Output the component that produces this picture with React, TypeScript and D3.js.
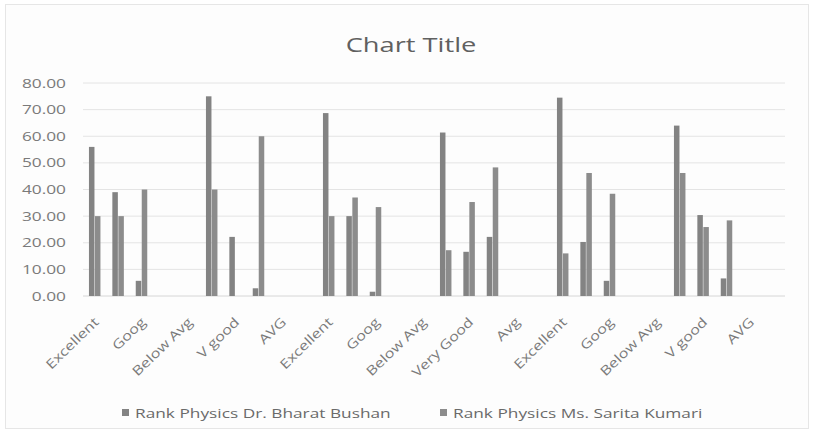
import React from "react";
import * as d3 from "d3";

const categories = [
  "Excellent", "V good", "Goog", "Avg", "Below Avg",
  "Excellent", "V good", "AVG", "Good", "Below Avg",
  "Excellent", "V good", "Goog", "Avg", "Below Avg",
  "Excellent", "Very Good", "Good", "Avg", "Below Avg",
  "Excellent", "V good", "Goog", "Avg", "Below Avg",
  "Excellent", "V good", "Good", "AVG", "Below Avg",
];
const tickLabels = [
  "Excellent", "Goog", "Below Avg", "V good", "AVG",
  "Excellent", "Goog", "Below Avg", "Very Good", "Avg",
  "Excellent", "Goog", "Below Avg", "V good", "AVG",
];
const seriesNames = ["Rank Physics Dr. Bharat Bushan", "Rank Physics Ms. Sarita Kumari"];
const bharat = [56, 39, 5.7, 0, 0, 75, 22.2, 2.9, 0, 0, 68.7, 30, 1.6, 0, 0, 61.4, 16.6, 22.2, 0, 0, 74.5, 20.3, 5.7, 0, 0, 64, 30.4, 6.6, 0, 0];
const sarita = [30, 30, 40, 0, 0, 40, 0, 60, 0, 0, 30, 37, 33.4, 0, 0, 17.2, 35.3, 48.3, 0, 0, 16, 46.2, 38.4, 0, 0, 46.2, 25.9, 28.4, 0, 0];
const yTicks = [0, 10, 20, 30, 40, 50, 60, 70, 80];

const W = 817, H = 437;
const font = "'Open Sans', 'DejaVu Sans', sans-serif";
const SX = 1.33;

export default function App() {
  const x = d3.scaleBand<number>().domain(d3.range(categories.length)).range([83, 785]).paddingInner(0).paddingOuter(0);
  const inner = d3.scaleBand<number>().domain([0, 1]).range([0, 11.5]).paddingInner(0.08);
  const y = d3.scaleLinear().domain([0, 80]).range([296, 83]);
  const fmt = d3.format(".2f");
  const series = [bharat, sarita];
  const colors = ["#838383", "#8c8c8c"];
  return (
    <svg width={W} height={H} style={{ position: "absolute", left: 0, top: 0, background: "#fff" }}>
      <rect x={5.5} y={4.5} width={803} height={424} fill="#fdfdfd" stroke="#e6e6e6" />
      <text transform={`translate(411,52) scale(${SX},1)`} textAnchor="middle" fontFamily={font} fontSize={20.5} fill="#606060">Chart Title</text>
      {yTicks.map((t) => (
        <g key={t}>
          <line x1={83} x2={785} y1={y(t)} y2={y(t)} stroke={t === 0 ? "#d6d6d6" : "#e4e4e4"} strokeWidth={1} />
          <text transform={`translate(66,${y(t) + 4.5}) scale(${SX},1)`} textAnchor="end" fontFamily={font} fontSize={13} fill="#7a7a7a">{fmt(t)}</text>
        </g>
      ))}
      {categories.map((c, i) => (
        <g key={i} transform={`translate(${x(i)! + x.bandwidth() / 2 - 5.75},0)`}>
          {series.map((s, k) =>
            s[i] > 0 ? (
              <rect key={k} x={inner(k)} width={inner.bandwidth()} y={y(s[i])} height={y(0) - y(s[i])} fill={colors[k]} />
            ) : null
          )}
        </g>
      ))}
      {tickLabels.map((l, j) => {
        const cx = x(j * 2)! + x.bandwidth() / 2 + 5;
        return (
          <text key={j} transform={`translate(${cx},${323}) rotate(-44) scale(1.25,1)`} textAnchor="end" fontFamily={font} fontSize={13} fill="#7a7a7a">{l}</text>
        );
      })}
      {seriesNames.map((n, k) => {
        const lx = k === 0 ? 122 : 440;
        return (
          <g key={k}>
            <rect x={lx} y={409} width={7} height={7} fill={colors[k]} />
            <text transform={`translate(${lx + 13},418) scale(${SX},1)`} fontFamily={font} fontSize={13} fill="#6a6a6a">{n}</text>
          </g>
        );
      })}
    </svg>
  );
}
